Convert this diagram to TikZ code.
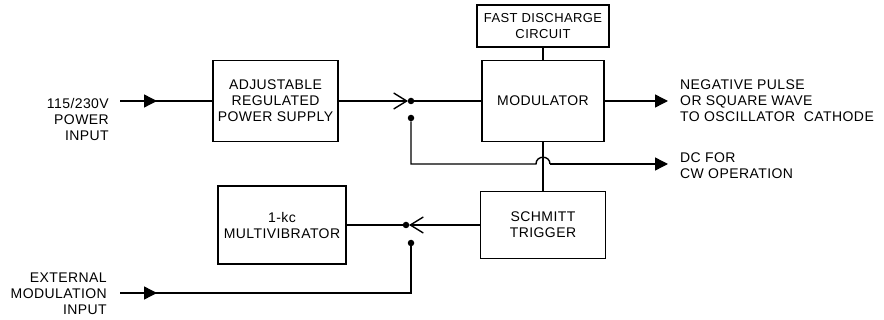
\documentclass[tikz,border=0pt]{standalone}
\usepackage{fontspec}
\setmainfont{Liberation Sans}[LetterSpace=3]
\usetikzlibrary{arrows.meta}
\begin{document}
\begin{tikzpicture}[x=1pt,y=-1pt,
  box/.style={draw, line width=1.4pt, inner sep=0pt, align=center, font=\fontsize{14}{16}\selectfont},
  lbl/.style={inner sep=0pt, font=\fontsize{14}{16}\selectfont},
  wire/.style={line width=1.4pt},
  fill arrow/.style={-{Triangle[length=13pt,width=13pt]}},
  open arrow/.style={-{Straight Barb[length=13pt,width=16pt,line width=1.4pt]}},
  dot/.style={circle, fill, inner sep=0pt, minimum size=6.5pt}]
\useasboundingbox (0,0) rectangle (884,320);

% boxes
\node[box, minimum width=125pt, minimum height=81pt] (ps) at (275.5,101) {ADJUSTABLE\\REGULATED\\POWER SUPPLY};
\node[box, minimum width=122pt, minimum height=81pt] (mod) at (543,101) {MODULATOR};
\node[box, minimum width=132pt, minimum height=42pt, font=\fontsize{13}{16}\selectfont] (fd) at (543,26) {FAST DISCHARGE\\CIRCUIT};
\node[box, minimum width=125pt, minimum height=67pt] (sch) at (543,225) {SCHMITT\\TRIGGER};
\node[box, minimum width=128pt, minimum height=78pt] (mv) at (282,225) {1-kc\\MULTIVIBRATOR};

% labels
\node[lbl, anchor=east, align=right] (inlbl) at (109,119) {115/230V\\POWER\\INPUT};
\node[lbl, anchor=east, align=right] (extlbl) at (107,294) {EXTERNAL\\MODULATION\\INPUT};
\node[lbl, anchor=west, align=left] (outlbl) at (680,101) {NEGATIVE PULSE\\OR SQUARE WAVE\\TO OSCILLATOR\ \ CATHODE};
\node[lbl, anchor=west, align=left] (dclbl) at (680,166) {DC FOR\\CW OPERATION};

% coordinates
\coordinate (inStart) at (120,101);
\coordinate (inA) at (157,101);
\coordinate (extStart) at (120,293);
\coordinate (extA) at (157,293);
\coordinate (sw1tip) at (408,101);
\coordinate (sw2tip) at (409,225);
\coordinate (hopL) at (536,164);
\coordinate (hopR) at (550,164);
\coordinate (dcEnd) at (668,164);
\coordinate (outEnd) at (668,101);

% switch contacts
\node[dot] (sw1) at (411,101) {};
\node[dot] (sw1b) at (411,118) {};
\node[dot] (sw2) at (406,225) {};
\node[dot] (sw2b) at (411,243) {};

% connections
\draw[wire] (inStart) -- (ps.west);
\draw[wire, fill arrow] (inStart) -- (inA);
\draw[wire, open arrow] (ps.east) -- (sw1tip);
\draw[wire] (sw1) -- (mod.west);
\draw[wire] (fd.south) -- (mod.north);
\draw[wire, fill arrow] (mod.east) -- (outEnd);
\draw[wire] (mod.south) -- (sch.north);
\draw[wire] (sw1b) |- (hopL) .. controls +(0,-9) and +(0,-9) .. (hopR);
\draw[wire, fill arrow] (hopR) -- (dcEnd);
\draw[wire, open arrow] (sch.west) -- (sw2tip);
\draw[wire] (mv.east) -- (sw2);
\draw[wire] (sw2b) |- (extStart);
\draw[wire, fill arrow] (extStart) -- (extA);
\end{tikzpicture}
\end{document}
